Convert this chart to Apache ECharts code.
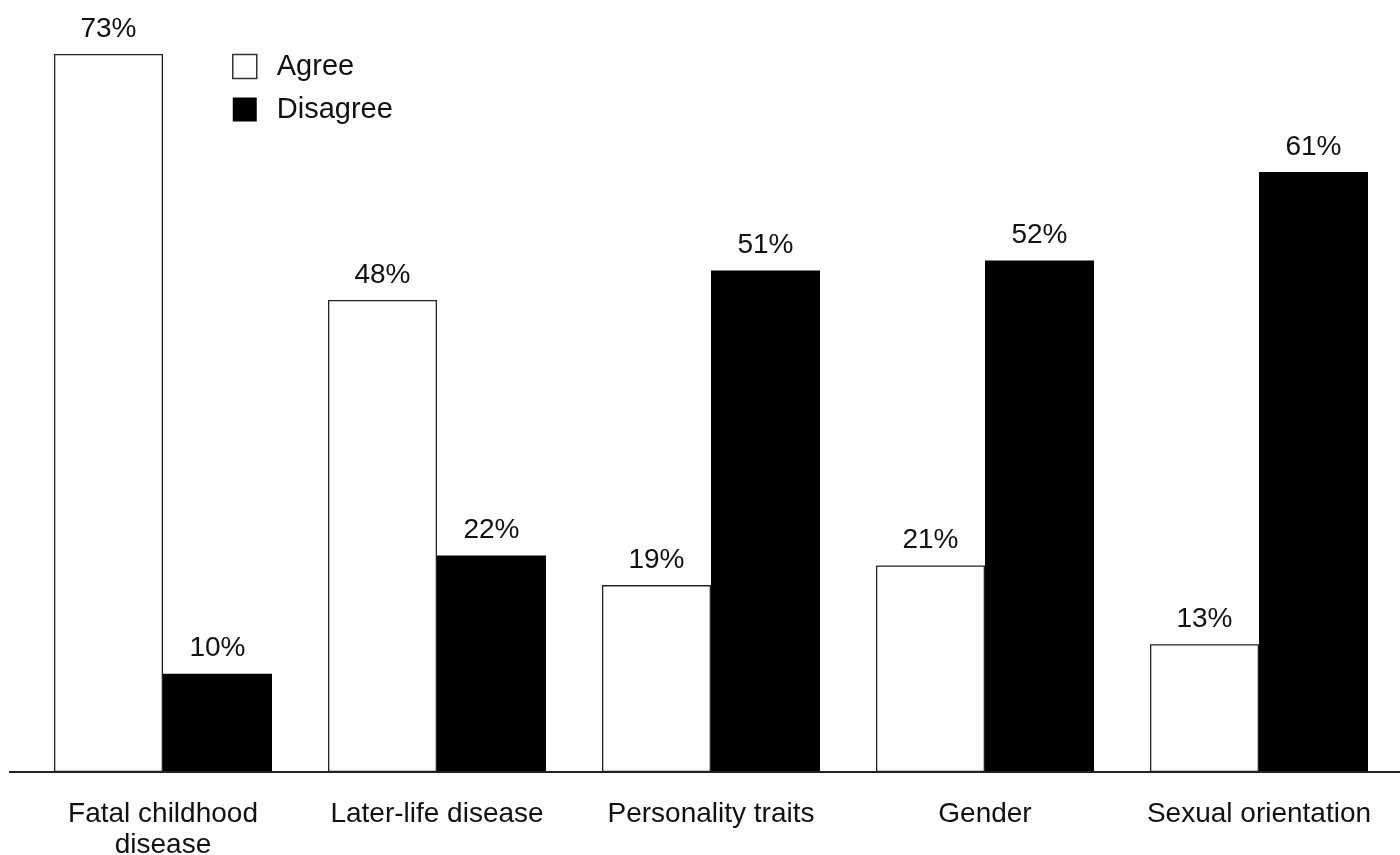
<!DOCTYPE html>
<html><head><meta charset="utf-8">
<script src="https://cdn.jsdelivr.net/npm/echarts@6/dist/echarts.min.js"></script>
<style>html,body{margin:0;padding:0;background:#fff;overflow:hidden}#c{width:1400px;height:855px}</style>
</head><body><div id="c"></div>
<script>
const categories = ['Fatal childhood\ndisease', 'Later-life disease', 'Personality traits', 'Gender', 'Sexual orientation'];
const agree = [73, 48, 19, 21, 13];
const disagree = [10, 22, 51, 52, 61];
const seriesNames = ['Agree', 'Disagree'];

const FONT = '"Liberation Sans", Arial, sans-serif';
const chart = echarts.init(document.getElementById('c'), null, {renderer: 'canvas'});
const H = chart.getHeight();
const baseY = 772;
const labelCfg = {show: true, position: 'top', distance: 11, formatter: '{c}%', color: '#111', fontSize: 28, fontFamily: FONT};
chart.setOption({
  animation: false,
  backgroundColor: '#fff',
  textStyle: {fontFamily: FONT},
  legend: {
    orient: 'vertical', left: 232, top: 52, padding: 0, itemWidth: 24, itemHeight: 24, itemGap: 14,
    textStyle: {fontSize: 29, lineHeight: 24, color: '#111', fontFamily: FONT, padding: [0, 0, 0, 15]},
    data: [
      {name: seriesNames[0], icon: 'rect', itemStyle: {color: '#fff', borderColor: '#333', borderWidth: 1.5}},
      {name: seriesNames[1], icon: 'rect', itemStyle: {color: '#000'}}
    ]
  },
  grid: {left: 26, right: 4, top: 54, bottom: H - baseY, outerBoundsMode: 'none', containLabel: false},
  xAxis: {
    type: 'category', data: categories,
    axisLine: {show: false}, axisTick: {show: false},
    axisLabel: {fontSize: 28, color: '#111', margin: 27, lineHeight: 31, fontFamily: FONT, interval: 0}
  },
  yAxis: {type: 'value', min: 0, max: 73, show: false, splitLine: {show: false}},
  series: [
    {name: seriesNames[0], type: 'bar', data: agree, barWidth: 109, barGap: '0%',
     itemStyle: {color: '#fff', borderColor: '#222', borderWidth: 1.3}, label: labelCfg},
    {name: seriesNames[1], type: 'bar', data: disagree, barWidth: 109,
     itemStyle: {color: '#000'}, label: labelCfg}
  ]
});
const y0 = chart.convertToPixel({yAxisIndex: 0}, 0);
chart.setOption({
  graphic: [{
    type: 'line', shape: {x1: 9, y1: y0, x2: chart.getWidth(), y2: y0},
    style: {stroke: '#222', lineWidth: 2}, z: 10
  }]
});
</script></body></html>
